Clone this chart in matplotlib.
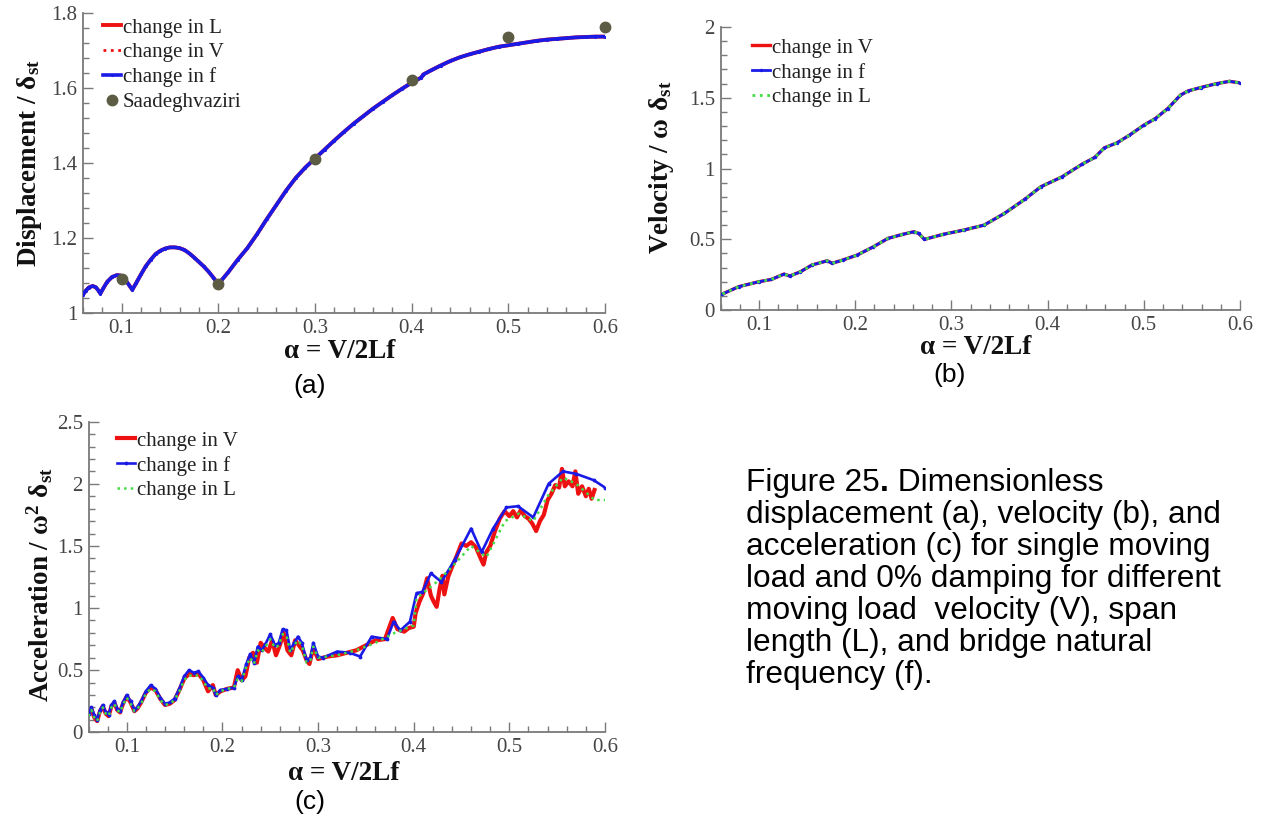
import matplotlib
matplotlib.use("Agg")
import matplotlib.pyplot as plt
from matplotlib.ticker import MultipleLocator, FuncFormatter

plt.rcParams['mathtext.fontset'] = 'custom'
plt.rcParams['mathtext.rm'] = 'Liberation Serif:bold'
plt.rcParams['mathtext.bf'] = 'Liberation Serif:bold'
plt.rcParams['mathtext.it'] = 'Liberation Serif:bold'
plt.rcParams['font.family'] = ['Liberation Serif', 'DejaVu Serif']

# ---------------- data: panel (a) displacement ----------------
alpha_a = [0.060, 0.063, 0.066, 0.070, 0.073, 0.076, 0.078, 0.081, 0.085, 0.090,
           0.095, 0.099, 0.103, 0.107, 0.111, 0.115, 0.120, 0.125, 0.130, 0.135,
           0.140, 0.145, 0.150, 0.155, 0.160, 0.165, 0.170, 0.175, 0.180, 0.185,
           0.190, 0.195, 0.200, 0.210, 0.220, 0.230, 0.240, 0.250, 0.260, 0.270,
           0.280, 0.290, 0.300, 0.310, 0.320, 0.330, 0.340, 0.350, 0.360, 0.370,
           0.380, 0.390, 0.400, 0.410, 0.412, 0.420, 0.430, 0.440, 0.450, 0.460,
           0.470, 0.480, 0.490, 0.500, 0.510, 0.520, 0.530, 0.540, 0.550, 0.560,
           0.570, 0.580, 0.590, 0.600]
disp_L = [1.049, 1.060, 1.068, 1.072, 1.069, 1.060, 1.052, 1.066, 1.083, 1.096,
          1.101, 1.100, 1.091, 1.077, 1.062, 1.080, 1.103, 1.125, 1.142, 1.157,
          1.166, 1.172, 1.175, 1.175, 1.173, 1.168, 1.159, 1.148, 1.136, 1.124,
          1.110, 1.094, 1.077, 1.108, 1.142, 1.173, 1.210, 1.250, 1.288, 1.326,
          1.360, 1.388, 1.412, 1.436, 1.460, 1.483, 1.505, 1.525, 1.545, 1.563,
          1.581, 1.598, 1.614, 1.628, 1.636, 1.647, 1.660, 1.672, 1.682, 1.690,
          1.697, 1.704, 1.710, 1.714, 1.718, 1.722, 1.726, 1.729, 1.731, 1.733,
          1.735, 1.736, 1.737, 1.737]
disp_V = disp_L
disp_f = disp_L
saad_alpha = [0.1, 0.2, 0.3, 0.4, 0.5, 0.6]
saad_disp = [1.091, 1.077, 1.412, 1.622, 1.735, 1.764]

# ---------------- data: panel (b) velocity ----------------
alpha_b = [0.062, 0.079, 0.100, 0.113, 0.126, 0.132, 0.143, 0.155, 0.171, 0.176,
           0.187, 0.202, 0.219, 0.234, 0.249, 0.261, 0.266, 0.272, 0.291, 0.313,
           0.334, 0.355, 0.376, 0.393, 0.415, 0.436, 0.449, 0.459, 0.472, 0.485,
           0.500, 0.512, 0.525, 0.538, 0.546, 0.559, 0.576, 0.589, 0.600]
vel_V = [0.113, 0.165, 0.200, 0.216, 0.254, 0.240, 0.270, 0.318, 0.348, 0.330,
         0.353, 0.388, 0.447, 0.506, 0.534, 0.553, 0.541, 0.499, 0.534, 0.565,
         0.600, 0.682, 0.781, 0.871, 0.941, 1.031, 1.078, 1.146, 1.181, 1.235,
         1.306, 1.353, 1.424, 1.518, 1.548, 1.572, 1.600, 1.616, 1.605]
vel_f = vel_V
vel_L = vel_V

# ---------------- data: panel (c) acceleration ----------------
alpha_cV = [0.060, 0.063, 0.066, 0.069, 0.072, 0.075, 0.078, 0.081, 0.084, 0.087,
            0.090, 0.093, 0.096, 0.100, 0.104, 0.108, 0.111, 0.115, 0.120, 0.125,
            0.130, 0.135, 0.140, 0.145, 0.150, 0.155, 0.160, 0.165, 0.170, 0.175,
            0.180, 0.185, 0.190, 0.193, 0.198, 0.205, 0.212, 0.216, 0.220, 0.224,
            0.228, 0.232, 0.236, 0.240, 0.244, 0.248, 0.252, 0.256, 0.260, 0.264,
            0.268, 0.272, 0.276, 0.280, 0.284, 0.288, 0.291, 0.295, 0.300, 0.305,
            0.310, 0.320, 0.330, 0.340, 0.350, 0.360, 0.370, 0.378, 0.383, 0.390,
            0.395, 0.400, 0.402, 0.406, 0.410, 0.414, 0.418, 0.421, 0.424, 0.427,
            0.430, 0.432, 0.436, 0.440, 0.445, 0.450, 0.455, 0.460, 0.465, 0.470,
            0.473, 0.476, 0.480, 0.485, 0.490, 0.495, 0.500, 0.504, 0.508, 0.512,
            0.516, 0.520, 0.524, 0.528, 0.532, 0.536, 0.540, 0.544, 0.548, 0.552,
            0.555, 0.558, 0.562, 0.566, 0.569, 0.572, 0.576, 0.580, 0.583, 0.586,
            0.589]
acc_V = [0.14, 0.19, 0.12, 0.09, 0.17, 0.21, 0.15, 0.13, 0.21, 0.24,
         0.18, 0.16, 0.23, 0.29, 0.24, 0.17, 0.19, 0.24, 0.32, 0.36,
         0.34, 0.27, 0.22, 0.23, 0.26, 0.34, 0.43, 0.47, 0.46, 0.47,
         0.42, 0.33, 0.38, 0.30, 0.33, 0.35, 0.36, 0.50, 0.42, 0.45,
         0.60, 0.64, 0.56, 0.72, 0.68, 0.65, 0.74, 0.62, 0.70, 0.80,
         0.66, 0.62, 0.74, 0.70, 0.66, 0.58, 0.55, 0.68, 0.59, 0.60,
         0.61, 0.62, 0.64, 0.66, 0.70, 0.74, 0.75, 0.92, 0.83, 0.81,
         0.84, 0.85, 0.96, 1.05, 1.12, 1.24, 1.10, 1.05, 1.01, 1.15,
         1.26, 1.11, 1.25, 1.33, 1.42, 1.52, 1.50, 1.53, 1.49, 1.40,
         1.35, 1.45, 1.50, 1.62, 1.72, 1.78, 1.74, 1.78, 1.73, 1.79,
         1.74, 1.72, 1.68, 1.62, 1.70, 1.75, 1.87, 1.92, 1.99, 1.97,
         2.12, 1.98, 2.02, 1.98, 2.10, 1.92, 1.98, 1.90, 1.96, 1.88,
         1.95]

alpha_cf = [0.060, 0.063, 0.066, 0.069, 0.072, 0.075, 0.078, 0.081, 0.084, 0.087,
            0.090, 0.093, 0.096, 0.100, 0.104, 0.108, 0.111, 0.115, 0.120, 0.125,
            0.130, 0.135, 0.140, 0.145, 0.150, 0.155, 0.160, 0.165, 0.170, 0.175,
            0.180, 0.185, 0.190, 0.193, 0.198, 0.205, 0.212, 0.216, 0.220, 0.225,
            0.229, 0.233, 0.237, 0.241, 0.245, 0.250, 0.255, 0.259, 0.263, 0.267,
            0.271, 0.275, 0.279, 0.283, 0.288, 0.292, 0.295, 0.300, 0.305, 0.320,
            0.333, 0.344, 0.356, 0.372, 0.379, 0.386, 0.396, 0.403, 0.409, 0.418,
            0.429, 0.443, 0.460, 0.471, 0.483, 0.497, 0.509, 0.525, 0.541, 0.556,
            0.570, 0.588, 0.600]
acc_f = [0.15, 0.20, 0.14, 0.10, 0.18, 0.22, 0.16, 0.14, 0.22, 0.25,
         0.19, 0.17, 0.24, 0.30, 0.25, 0.18, 0.20, 0.25, 0.33, 0.38,
         0.35, 0.28, 0.23, 0.24, 0.27, 0.35, 0.45, 0.50, 0.48, 0.49,
         0.44, 0.38, 0.36, 0.30, 0.34, 0.35, 0.36, 0.45, 0.42, 0.55,
         0.63, 0.56, 0.69, 0.66, 0.71, 0.79, 0.70, 0.72, 0.83, 0.82,
         0.66, 0.72, 0.77, 0.72, 0.58, 0.60, 0.72, 0.61, 0.60, 0.65,
         0.64, 0.61, 0.77, 0.75, 0.89, 0.82, 0.89, 1.12, 1.13, 1.28,
         1.21, 1.39, 1.64, 1.45, 1.64, 1.81, 1.82, 1.73, 2.00, 2.10,
         2.08, 2.03, 1.97]

alpha_cL = [0.060, 0.063, 0.066, 0.069, 0.072, 0.075, 0.078, 0.081, 0.084, 0.087,
            0.090, 0.093, 0.096, 0.100, 0.104, 0.108, 0.111, 0.115, 0.120, 0.125,
            0.130, 0.135, 0.140, 0.145, 0.150, 0.155, 0.160, 0.165, 0.170, 0.175,
            0.180, 0.185, 0.190, 0.193, 0.198, 0.205, 0.212, 0.216, 0.220, 0.225,
            0.229, 0.233, 0.237, 0.241, 0.245, 0.250, 0.255, 0.259, 0.263, 0.267,
            0.271, 0.275, 0.279, 0.283, 0.288, 0.292, 0.295, 0.300, 0.320, 0.340,
            0.360, 0.380, 0.400, 0.403, 0.424, 0.440, 0.460, 0.476, 0.4955, 0.510,
            0.525, 0.540, 0.556, 0.570, 0.589, 0.600]
acc_L = [0.13, 0.18, 0.12, 0.09, 0.16, 0.20, 0.15, 0.13, 0.20, 0.23,
         0.18, 0.16, 0.22, 0.28, 0.23, 0.17, 0.19, 0.23, 0.31, 0.35,
         0.33, 0.26, 0.22, 0.23, 0.26, 0.33, 0.42, 0.46, 0.45, 0.46,
         0.41, 0.35, 0.36, 0.30, 0.33, 0.35, 0.36, 0.43, 0.41, 0.53,
         0.60, 0.55, 0.66, 0.64, 0.69, 0.75, 0.68, 0.70, 0.79, 0.78,
         0.64, 0.70, 0.74, 0.70, 0.56, 0.58, 0.69, 0.60, 0.62, 0.66,
         0.72, 0.80, 0.86, 1.08, 1.21, 1.33, 1.50, 1.41, 1.70, 1.76,
         1.70, 1.90, 2.05, 2.00, 1.87, 1.87]

# ---------------- style ----------------
RED = '#ee1111'
BLUE = '#1a1ae6'
GREEN = '#44dd44'
OLIVE = '#5c5c44'
SPINE = '#7a7a7a'
TICKTXT = '#444444'
W, H = 1262, 819

fig = plt.figure(figsize=(W / 100, H / 100), dpi=100)


def px_axes(left, right, top, bottom):
    return fig.add_axes([left / W, (H - bottom) / H, (right - left) / W, (bottom - top) / H])


def style(ax, xlim, ylim, ymaj, ymin):
    ax.set_xlim(*xlim)
    ax.set_ylim(*ylim)
    for s in ['top', 'right']:
        ax.spines[s].set_visible(False)
    for s in ['left', 'bottom']:
        ax.spines[s].set_color(SPINE)
        ax.spines[s].set_linewidth(1.3)
    ax.xaxis.set_major_locator(MultipleLocator(0.1))
    ax.xaxis.set_minor_locator(MultipleLocator(0.02))
    ax.yaxis.set_major_locator(MultipleLocator(ymaj))
    ax.yaxis.set_minor_locator(MultipleLocator(ymin))
    fmt = FuncFormatter(lambda v, p: f"{v:g}")
    ax.xaxis.set_major_formatter(fmt)
    ax.yaxis.set_major_formatter(fmt)
    ax.tick_params(which='both', direction='in', color=SPINE, width=1.0)
    ax.tick_params(which='major', length=7, labelsize=15, labelcolor=TICKTXT, pad=4)
    ax.tick_params(which='minor', length=4)
    ax.tick_params(axis='x', which='major', pad=4)
    for lab in ax.get_xticklabels() + ax.get_yticklabels():
        lab.set_family('Liberation Serif')


def labels(ax, xl, yl, xpos, ypos, size=19.5):
    ax.set_xlabel(xl, fontsize=size, fontweight='bold', family='Liberation Serif', color='#111111')
    ax.set_ylabel(yl, fontsize=size, fontweight='bold', family='Liberation Serif', color='#111111')
    ax.xaxis.set_label_coords(*xpos)
    ax.yaxis.set_label_coords(*ypos)
    ax.xaxis.label.set_verticalalignment('center')
    ax.yaxis.label.set_verticalalignment('center')


def legend(ax, anchor):
    leg = ax.legend(loc='upper left', bbox_to_anchor=anchor, frameon=False,
                    prop={'family': 'Liberation Serif', 'size': 15},
                    handlelength=0.85, handletextpad=0.1, labelspacing=0.25,
                    borderaxespad=0, borderpad=0, markerscale=1.0)
    for t in leg.get_texts():
        t.set_color('#222222')
    return leg


# ---------------- panel (a) ----------------
axa = px_axes(83, 605, 13, 313)
axa.plot(alpha_a, disp_L, color=RED, lw=2.8, label='change in L', zorder=2)
axa.plot(alpha_a, disp_V, color=RED, lw=2.0, ls=':', label='change in V', zorder=3)
axa.plot(alpha_a, disp_f, color=BLUE, lw=2.6, marker='.', ms=2.5, label='change in f', zorder=4)
axa.plot(saad_alpha, saad_disp, ls='none', marker='o', ms=7.5, color=OLIVE,
         label='Saadeghvaziri', zorder=5, clip_on=False)
style(axa, (0.06, 0.6), (1.0, 1.8), 0.2, 0.04)
labels(axa, 'α = V/2Lf', r'Displacement / $\mathbf{\delta_{st}}$',
       ((340 - 83) / 522, (313 - 352) / 300), ((30 - 83) / 522, (313 - 163) / 300))
legend(axa, ((103 - 83) / 522, (313 - 18) / 300))

# ---------------- panel (b) ----------------
axb = px_axes(720.5, 1240, 27, 310)
axb.plot(alpha_b, vel_V, color=RED, lw=2.4, label='change in V', zorder=2)
axb.plot(alpha_b, vel_f, color=BLUE, lw=2.0, marker='.', ms=3, label='change in f', zorder=3)
axb.plot(alpha_b, vel_L, color=GREEN, lw=2.0, ls=':', label='change in L', zorder=4)
style(axb, (0.06, 0.6), (0.0, 2.0), 0.5, 0.1)
labels(axb, 'α = V/2Lf', r'Velocity / $\mathbf{\omega\ \delta_{st}}$',
       ((976 - 720.5) / 519.5, (310 - 347) / 283), ((662 - 720.5) / 519.5, (310 - 167) / 283))
legend(axb, ((752 - 720.5) / 519.5, (310 - 38) / 283))

# ---------------- panel (c) ----------------
axc = px_axes(88.5, 605, 421.7, 732.3)
axc.plot(alpha_cV, acc_V, color=RED, lw=3.0, label='change in V', zorder=2)
axc.plot(alpha_cf, acc_f, color=BLUE, lw=1.9, marker='.', ms=3.5, label='change in f', zorder=3)
axc.plot(alpha_cL, acc_L, color=GREEN, lw=1.8, ls=':', label='change in L', zorder=4)
style(axc, (0.06, 0.6), (0.0, 2.5), 0.5, 0.1)
labels(axc, 'α = V/2Lf', r'Acceleration / $\mathbf{\omega^{2}\ \delta_{st}}$',
       ((344 - 88.5) / 516.5, (732.3 - 774) / 310.6), ((40 - 88.5) / 516.5, (732.3 - 585) / 310.6))
legend(axc, ((117 - 88.5) / 516.5, (732.3 - 431) / 310.6))

# ---------------- sub-captions ----------------
SANS = 'Liberation Sans'
fig.text(310 / W, 1 - 386 / H, '(a)', family=SANS, fontsize=19, ha='center', va='center')
fig.text(950 / W, 1 - 375 / H, '(b)', family=SANS, fontsize=19, ha='center', va='center')
fig.text(310 / W, 1 - 802 / H, '(c)', family=SANS, fontsize=19, ha='center', va='center')

# ---------------- figure caption ----------------
cap_lines = ["displacement (a), velocity (b), and",
             "acceleration (c) for single moving",
             "load and 0% damping for different",
             "moving load  velocity (V), span",
             "length (L), and bridge natural",
             "frequency (f)."]
CAP_SIZE = 22.8
x0 = 746 / W
base0 = 491
pitch = 32
t1 = fig.text(x0, 1 - base0 / H, 'Figure 25', family=SANS, fontsize=CAP_SIZE, va='baseline')
fig.canvas.draw()
r = fig.canvas.get_renderer()
bb = t1.get_window_extent(r)
t2 = fig.text(bb.x1 / W, 1 - base0 / H, '.', family=SANS, fontsize=CAP_SIZE, fontweight='bold', va='baseline')
bb2 = t2.get_window_extent(r)
fig.text(bb2.x1 / W, 1 - base0 / H, ' Dimensionless', family=SANS, fontsize=CAP_SIZE, va='baseline')
for i, line in enumerate(cap_lines):
    fig.text(x0, 1 - (base0 + pitch * (i + 1)) / H, line, family=SANS, fontsize=CAP_SIZE, va='baseline')

fig.savefig('out.png', dpi=100)
